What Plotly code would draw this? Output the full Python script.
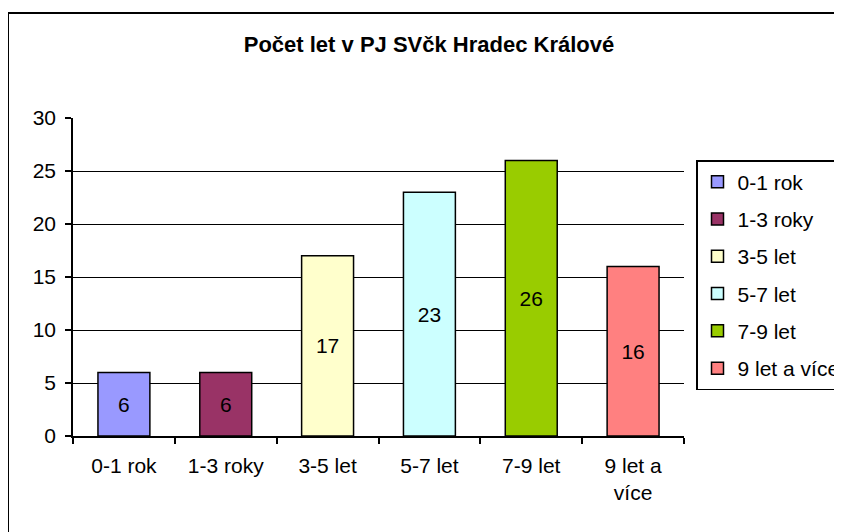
import plotly.graph_objects as go

categories = ["0-1 rok", "1-3 roky", "3-5 let", "5-7 let", "7-9 let", "9 let a více"]
tick_labels = ["0-1 rok", "1-3 roky", "3-5 let", "5-7 let", "7-9 let", "9 let a<br>více"]
values = [6, 6, 17, 23, 26, 16]
colors = ["#9999FF", "#993366", "#FFFFCC", "#CCFFFF", "#99CC00", "#FF8080"]
title = "Počet let v PJ SVčk Hradec Králové"

FONT = "Liberation Sans, Arial, sans-serif"
FS = 21

fig = go.Figure()
for cat, tl, v, c in zip(categories, tick_labels, values, colors):
    fig.add_trace(go.Bar(
        x=[tl], y=[v], name=cat, legendgroup=cat,
        marker=dict(color=c, line=dict(color="black", width=1.5)),
        width=0.51,
        text=[str(v)], textposition="inside", insidetextanchor="middle",
        textfont=dict(color="black", size=FS, family=FONT),
        constraintext="none",
    ))

L, T, B, R = 65, 110, 104, 166
PW, PH = 842 - L - R, 532 - T - B

fig.update_layout(
    width=842, height=532,
    margin=dict(l=L, r=R, t=T, b=B),
    paper_bgcolor="white", plot_bgcolor="white",
    barmode="overlay",
    font=dict(family=FONT, size=FS, color="black"),
    title=dict(text="<b>" + title + "</b>", x=(421 - L) / PW, xref="paper", xanchor="center",
               y=1 - 36 / 532, yref="container", yanchor="middle",
               font=dict(size=22, family=FONT, color="black")),
    showlegend=True,
    legend=dict(xref="container", yref="container",
                x=688 / 842, xanchor="left", y=1 - 152 / 532, yanchor="top",
                bordercolor="black", borderwidth=1.5, bgcolor="white",
                font=dict(size=FS, family=FONT, color="black"),
                traceorder="grouped", tracegroupgap=7),
    xaxis=dict(categoryorder="array", categoryarray=tick_labels,
               showline=True, linecolor="black", linewidth=1.5,
               ticks="outside", tickson="boundaries", ticklen=6, tickcolor="black", tickwidth=1.5,
               showgrid=False, tickfont=dict(size=FS), ticklabelstandoff=10),
    yaxis=dict(range=[0, 30], dtick=5, showline=True, linecolor="black", linewidth=1.5,
               ticks="outside", ticklen=6, tickcolor="black", tickwidth=1.5,
               showgrid=True, gridcolor="black", gridwidth=1, zeroline=False,
               tickfont=dict(size=FS), ticklabelstandoff=5),
    shapes=[dict(type="rect", xref="paper", yref="paper",
                 x0=(0 - L) / PW, x1=1.6, y0=-0.6, y1=(532 - B - 5) / PH,
                 line=dict(color="black", width=2), fillcolor="rgba(0,0,0,0)", layer="below")],
)

fig.write_html("out.html")
